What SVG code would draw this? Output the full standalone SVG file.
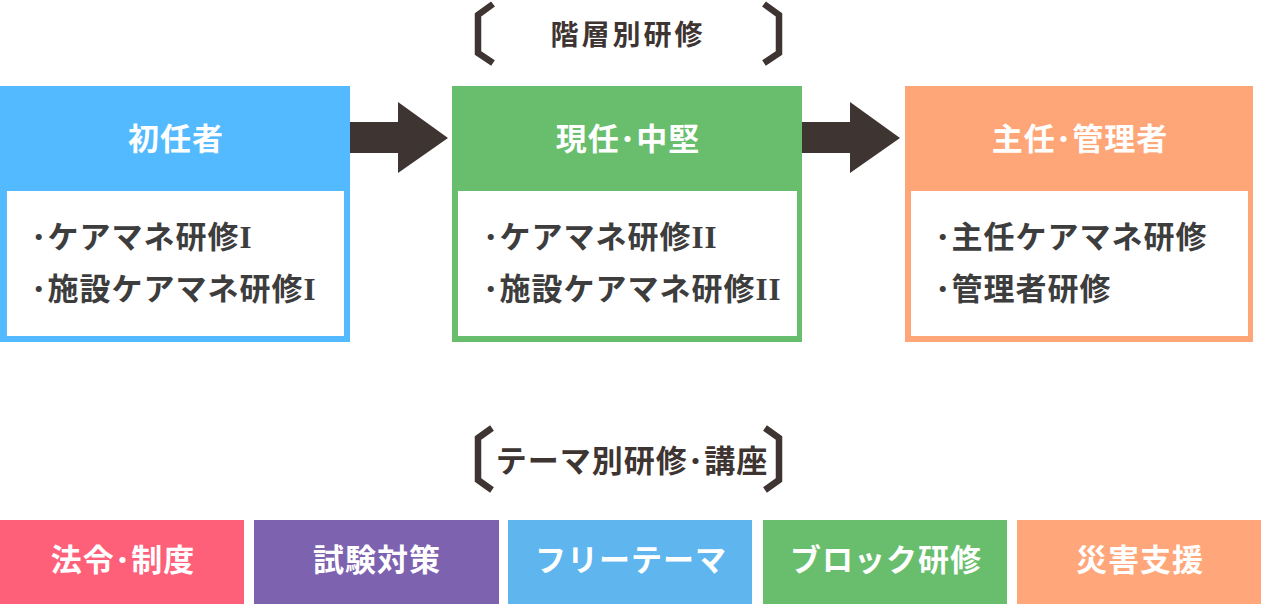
<svg xmlns="http://www.w3.org/2000/svg" width="1261" height="604" viewBox="0 0 1261 604">
<style>
.hd{font-family:"Noto Sans CJK JP","Noto Sans",sans-serif;font-weight:700;font-size:31px;fill:#fff;text-anchor:middle;letter-spacing:1px}
.ttl{font-family:"Noto Sans CJK JP","Noto Sans",sans-serif;font-weight:700;fill:#3e3431;text-anchor:middle}
.bd{font-family:"Liberation Serif","Noto Sans CJK JP",serif;font-weight:700;font-size:31px;fill:#3d3d3d;letter-spacing:1px}
.br{fill:none;stroke:#3e3431;stroke-width:6.5;stroke-linejoin:miter}
.inner{fill:#fff}
</style>
<rect width="1261" height="604" fill="#fff"/>
<g id="title-top">
<polyline class="br" points="493,4 478,15 478,53 493,63"/>
<polyline class="br" points="764,4 779,15 779,53 764,63"/>
<text class="ttl" x="628" y="45" font-size="28" letter-spacing="3">階層別研修</text>
</g>
<g id="node-shoninsha">
<rect x="0" y="86" width="350" height="256" fill="#53baff"/>
<rect class="inner" x="7" y="191" width="337" height="145"/>
<text class="hd" x="176" y="150">初任者</text>
<text class="bd" x="31" y="248">･ケアマネ研修I</text>
<text class="bd" x="31" y="300">･施設ケアマネ研修I</text>
</g>
<g id="node-genin">
<rect x="452" y="86" width="350" height="256" fill="#68be6d"/>
<rect class="inner" x="458" y="191" width="339" height="145"/>
<text class="hd" x="628" y="150">現任･中堅</text>
<text class="bd" x="483" y="248">･ケアマネ研修II</text>
<text class="bd" x="483" y="300">･施設ケアマネ研修II</text>
</g>
<g id="node-shunin">
<rect x="905" y="86" width="348" height="256" fill="#ffa678"/>
<rect class="inner" x="911" y="191" width="337" height="145"/>
<text class="hd" x="1080" y="150">主任･管理者</text>
<text class="bd" x="935" y="248">･主任ケアマネ研修</text>
<text class="bd" x="935" y="300">･管理者研修</text>
</g>
<g id="connectors" fill="#3e3431">
<polygon points="350,122 398,122 398,102 448,138 398,173 398,153 350,153"/>
<polygon points="802,122 850,122 850,102 900,138 850,173 850,153 802,153"/>
</g>
<g id="title-bottom">
<polyline class="br" points="492,428 478,438 478,480 492,490"/>
<polyline class="br" points="765,428 779,438 779,480 765,490"/>
<text class="ttl" x="632" y="472" font-size="31" letter-spacing="1">テーマ別研修･講座</text>
</g>
<g id="theme-hourei">
<rect x="0" y="520" width="244" height="84" fill="#ff6079"/>
<text class="hd" x="123" y="571">法令･制度</text>
</g>
<g id="theme-shiken">
<rect x="254" y="520" width="245" height="84" fill="#7d62b0"/>
<text class="hd" x="377" y="571">試験対策</text>
</g>
<g id="theme-free">
<rect x="508" y="520" width="244" height="84" fill="#5fb6ee"/>
<text class="hd" x="631" y="571">フリーテーマ</text>
</g>
<g id="theme-block">
<rect x="763" y="520" width="244" height="84" fill="#69be6d"/>
<text class="hd" x="886" y="571">ブロック研修</text>
</g>
<g id="theme-saigai">
<rect x="1017" y="520" width="244" height="84" fill="#ffa77a"/>
<text class="hd" x="1140" y="571">災害支援</text>
</g>
</svg>
